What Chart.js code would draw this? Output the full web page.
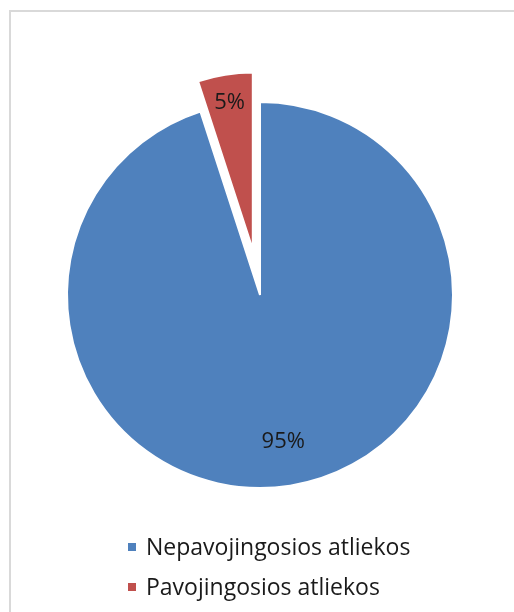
<!DOCTYPE html>
<html>
<head>
<meta charset="utf-8">
<script src="https://cdn.jsdelivr.net/npm/chart.js@4"></script>
<style>
  html, body { margin: 0; padding: 0; background: #fff; overflow: hidden; }
  body { width: 514px; height: 612px; position: relative; font-family: "Open Sans", sans-serif; }
  #frame { position: absolute; left: 9px; top: 10px; width: 600px; height: 700px; border: 2px solid #d9d9d9; box-sizing: border-box; }
  canvas { position: absolute; left: 0; top: 0; }
  #legend { position: absolute; left: 128px; top: 526px; list-style: none; margin: 0; padding: 0; }
  #legend li { height: 40px; line-height: 40px; font-size: 23px; color: #1a1a1a; white-space: nowrap; }
  #legend .box { display: inline-block; width: 8px; height: 8px; margin-right: 10px; vertical-align: middle; position: relative; top: -2px; }
</style>
</head>
<body>
<div id="frame"></div>
<canvas id="pie" width="514" height="612"></canvas>
<canvas id="slice" width="514" height="612"></canvas>
<ul id="legend"></ul>
<script>
const categories = ['Nepavojingosios atliekos', 'Pavojingosios atliekos'];
const values = [95, 5];
const colors = ['#4f81bd', '#c0504d'];
const exploded = [false, true];

// look of the pie
const W = 514, H = 612;
const pieRadius = 193;
const explodeDistance = 46;
const explodedRadius = 177;
const none = 'rgba(0,0,0,0)';

const pctLabels = {
  id: 'pctLabels',
  afterDatasetsDraw(chart, args, opts) {
    const ctx = chart.ctx;
    const meta = chart.getDatasetMeta(0);
    const total = values.reduce((a, b) => a + b, 0);
    ctx.save();
    ctx.font = '22px "Open Sans"';
    ctx.fillStyle = '#1a1a1a';
    ctx.textAlign = 'center';
    ctx.textBaseline = 'middle';
    meta.data.forEach((arc, i) => {
      if (!opts.show[i]) return;
      const mid = (arc.startAngle + arc.endAngle) / 2;
      const r = arc.outerRadius * opts.fraction;
      ctx.fillText(Math.round(values[i] / total * 100) + '%', arc.x + Math.cos(mid) * r, arc.y + Math.sin(mid) * r);
    });
    ctx.restore();
  }
};

function pieConfig(show, radius, padding, fraction) {
  return {
    type: 'pie',
    data: {
      labels: categories,
      datasets: [{
        data: values,
        backgroundColor: colors.map((c, i) => show[i] ? c : none),
        borderColor: show.map(s => s ? '#ffffff' : none),
        borderWidth: 2,
        radius: radius
      }]
    },
    options: {
      responsive: false,
      animation: false,
      layout: { padding: padding },
      plugins: {
        legend: { display: false },
        tooltip: { enabled: false },
        pctLabels: { show: show, fraction: fraction }
      }
    },
    plugins: [pctLabels]
  };
}

// main pie without the pulled-out slice
const main = new Chart(document.getElementById('pie'),
  pieConfig(exploded.map(e => !e), pieRadius, { left: 6, right: 0, top: 0, bottom: 22 }, 0.77));

// pulled-out slice: same data, moved along its own bisector
const idx = exploded.indexOf(true);
const arc = main.getDatasetMeta(0).data[idx];
const mid = (arc.startAngle + arc.endAngle) / 2;
const cx = arc.x + Math.cos(mid) * explodeDistance;
const cy = arc.y + Math.sin(mid) * explodeDistance;
const pad = {
  left: Math.max(0, 2 * cx - W), right: Math.max(0, W - 2 * cx),
  top: Math.max(0, 2 * cy - H), bottom: Math.max(0, H - 2 * cy)
};
new Chart(document.getElementById('slice'), pieConfig(exploded, explodedRadius, pad, 0.84));

const legend = document.getElementById('legend');
categories.forEach((name, i) => {
  const li = document.createElement('li');
  li.innerHTML = '<span class="box" style="background:' + colors[i] + '"></span>' + name;
  legend.appendChild(li);
});
</script>
</body>
</html>
